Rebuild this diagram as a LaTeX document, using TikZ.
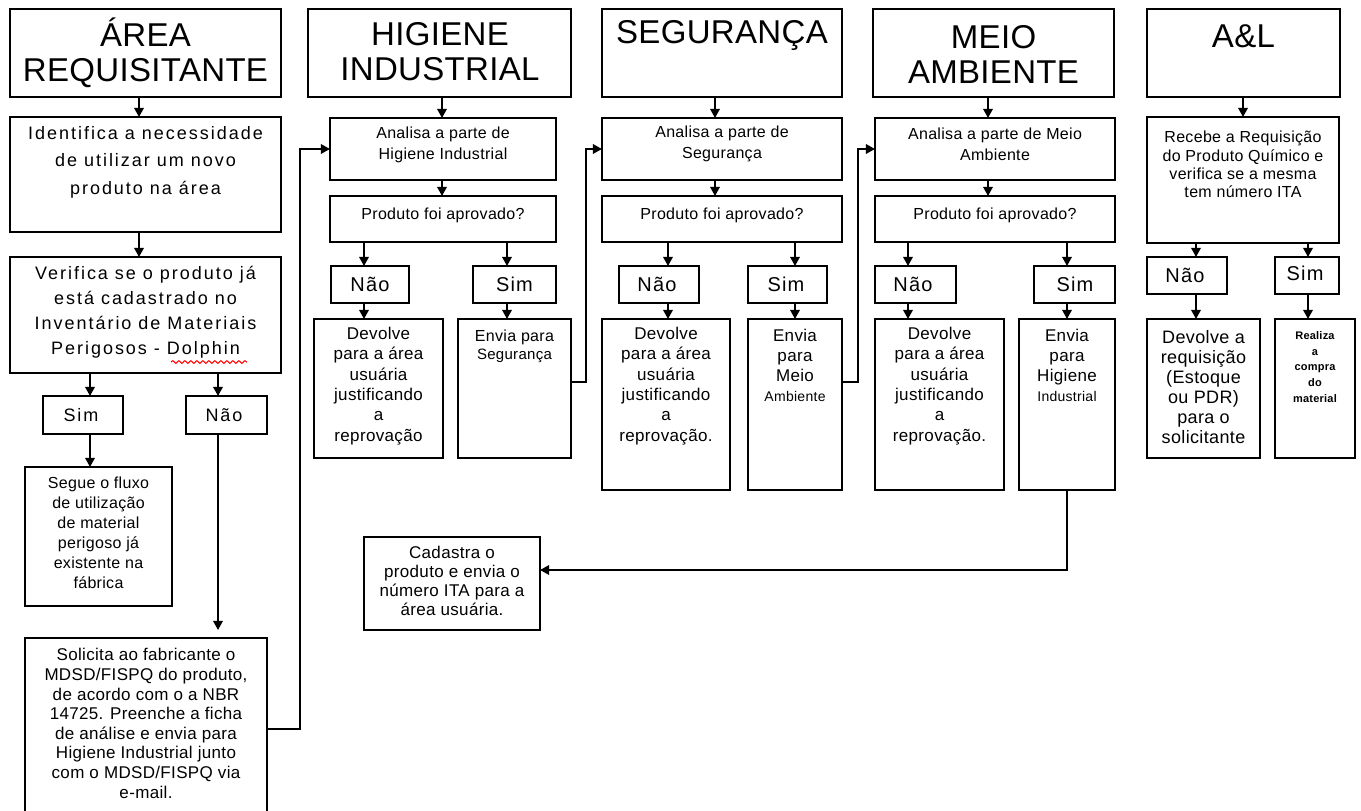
\documentclass[tikz,border=0pt]{standalone}
\usepackage{fontspec}
\setmainfont{Liberation Sans}
\newfontfamily\fA[LetterSpace=1]{Liberation Sans}
\newfontfamily\fB[LetterSpace=11]{Liberation Sans}
\newfontfamily\fC[LetterSpace=6]{Liberation Sans}
\newfontfamily\fD[LetterSpace=2]{Liberation Sans}
\usetikzlibrary{arrows.meta,decorations.pathmorphing,calc}
\newcommand\mkbox[5]{\node[box, minimum width={(#4-#2)*0.5pt}, minimum height={(#5-#3)*0.5pt}] (#1) at ({(#2+#4)/2},{(#3+#5)/2}) {};}
\begin{document}
\begin{tikzpicture}[x=0.5pt,y=-0.5pt,
  box/.style={draw, line width=1pt, inner sep=0pt, outer sep=0pt, rectangle},
  arr/.style={-{Triangle[length=4.6pt,width=4.8pt]}, line width=0.9pt},
  txt/.style={align=center, inner sep=0pt},
  hd/.style={txt, font=\fA\fontsize{16.5}{17.5}\selectfont},
  yn/.style={txt, font=\fC\fontsize{10}{12}\selectfont},
  sm/.style={txt, font=\fD\fontsize{8}{10}\selectfont}]
\useasboundingbox[fill=white] (0,0) rectangle (1361,810);

% ---------- AREA REQUISITANTE ----------
\mkbox{hAR}{10}{9}{281}{97}
\node[hd] (hAR-t) at (145.5,53) {ÁREA\\REQUISITANTE};
\mkbox{ident}{10}{117}{281}{232}
\node[txt, font=\fB\fontsize{9}{13.75}\selectfont] (ident-t) at (145.5,162) {Identifica a necessidade\\de utilizar um novo\\produto na área};
\mkbox{verif}{10}{257}{281}{373}
\node[txt, font=\fB\fontsize{9}{12.5}\selectfont] (verif-t) at (145.5,312) {Verifica se o produto já\\está cadastrado no\\Inventário de Materiais\\Perigosos - Dolphin};
\draw[red, line width=0.5pt, decorate, decoration={snake, amplitude=0.7pt, segment length=3pt}] (171,362) -- (247,362);
\mkbox{sim0}{43}{396}{123}{434}
\node[txt, font=\fB\fontsize{9}{10}\selectfont] (sim0-t) at (81,415) {Sim};
\mkbox{nao0}{186}{396}{267}{434}
\node[txt, font=\fB\fontsize{9}{10}\selectfont] (nao0-t) at (224,415) {Não};
\mkbox{segue}{25}{467}{172}{606}
\node[sm, font=\fD\fontsize{8}{10}\selectfont] (segue-t) at (98.5,533) {Segue o fluxo\\de utilização\\de material\\perigoso já\\existente na\\fábrica};
\mkbox{solic}{25}{638}{267}{830}
\node[sm, font=\fD\fontsize{8.5}{9.8}\selectfont] (solic-t) at (146,723.5) {Solicita ao fabricante o\\MDSD/FISPQ do produto,\\de acordo com o a NBR\\14725. Preenche a ficha\\de análise e envia para\\Higiene Industrial junto\\com o MDSD/FISPQ via\\e-mail.};

\coordinate (xAR) at (139,0);
\coordinate (xS0) at (90,0);
\coordinate (xN0) at (218,0);
\coordinate (xL) at (300,0);
\coordinate (yL) at (0,729);
\draw[arr] (hAR.south -| xAR) -- (ident.north -| xAR);
\draw[arr] (ident.south -| xAR) -- (verif.north -| xAR);
\draw[arr] (verif.south -| xS0) -- (sim0.north -| xS0);
\draw[arr] (sim0.south -| xS0) -- (segue.north -| xS0);
\draw[arr] (verif.south -| xN0) -- (nao0.north -| xN0);
\draw[arr, shorten >=4pt] (nao0.south -| xN0) -- (solic.north -| xN0);

% ---------- HIGIENE INDUSTRIAL ----------
\mkbox{hHI}{308}{9}{571}{97}
\node[hd] (hHI-t) at (440,52) {HIGIENE\\INDUSTRIAL};
\mkbox{aHI}{330}{118}{556}{180}
\node[sm, font=\fD\fontsize{8}{10.5}\selectfont] (aHI-t) at (443,145) {Analisa a parte de\\Higiene Industrial};
\mkbox{pHI}{330}{196}{556}{242}
\node[sm] (pHI-t) at (443,215) {Produto foi aprovado?};
\mkbox{nHI}{331}{266}{409}{303}
\node[yn] (nHI-t) at (370,284) {Não};
\mkbox{sHI}{473}{266}{556}{303}
\node[yn] (sHI-t) at (514.5,284) {Sim};
\mkbox{dHI}{314}{319}{443}{458}
\node[sm, font=\fD\fontsize{8.5}{10.2}\selectfont] (dHI-t) at (378.5,386) {Devolve\\para a área\\usuária\\justificando\\a\\reprovação};
\mkbox{eHI}{458}{319}{571}{458}
\node[sm, font=\fD\fontsize{8}{9}\selectfont] (eHI-t) at (514.5,346) {Envia para\\{\fontsize{7.5}{9}\selectfont Segurança}};

\coordinate (xHI) at (442,0);
\coordinate (xnHI) at (364,0);
\coordinate (xsHI) at (507,0);
\draw[arr] (hHI.south -| xHI) -- (aHI.north -| xHI);
\draw[arr] (aHI.south -| xHI) -- (pHI.north -| xHI);
\draw[arr] (pHI.south -| xnHI) -- (nHI.north -| xnHI);
\draw[arr] (pHI.south -| xsHI) -- (sHI.north -| xsHI);
\draw[arr] (nHI.south -| xnHI) -- (dHI.north -| xnHI);
\draw[arr] (sHI.south -| xsHI) -- (eHI.north -| xsHI);
\draw[arr] (solic.east |- yL) -- (xL |- yL) -- (xL |- aHI.west) -- (aHI.west);

% ---------- SEGURANCA ----------
\mkbox{hSEG}{602}{9}{842}{97}
\node[hd] (hSEG-t) at (722,35) {SEGURANÇA};
\mkbox{aSEG}{602}{118}{842}{180}
\node[sm, font=\fD\fontsize{8}{10.5}\selectfont] (aSEG-t) at (722,144) {Analisa a parte de\\Segurança};
\mkbox{pSEG}{602}{196}{842}{242}
\node[sm] (pSEG-t) at (722,215) {Produto foi aprovado?};
\mkbox{nSEG}{619}{266}{699}{303}
\node[yn] (nSEG-t) at (657,284) {Não};
\mkbox{sSEG}{748}{266}{827}{303}
\node[yn] (sSEG-t) at (786,284) {Sim};
\mkbox{dSEG}{602}{319}{730}{490}
\node[sm, font=\fD\fontsize{8.5}{10.2}\selectfont] (dSEG-t) at (666,386) {Devolve\\para a área\\usuária\\justificando\\a\\reprovação.};
\mkbox{eSEG}{748}{319}{842}{490}
\node[sm, font=\fD\fontsize{8.5}{10}\selectfont] (eSEG-t) at (795,365) {Envia\\para\\Meio\\{\fontsize{7}{10}\selectfont Ambiente}};

\coordinate (xSEG) at (715,0);
\coordinate (xnSEG) at (668,0);
\coordinate (xsSEG) at (795,0);
\coordinate (xC1) at (586,0);
\coordinate (yC1) at (0,382);
\draw[arr] (hSEG.south -| xSEG) -- (aSEG.north -| xSEG);
\draw[arr] (aSEG.south -| xSEG) -- (pSEG.north -| xSEG);
\draw[arr] (pSEG.south -| xnSEG) -- (nSEG.north -| xnSEG);
\draw[arr] (pSEG.south -| xsSEG) -- (sSEG.north -| xsSEG);
\draw[arr] (nSEG.south -| xnSEG) -- (dSEG.north -| xnSEG);
\draw[arr] (sSEG.south -| xsSEG) -- (eSEG.north -| xsSEG);
\draw[arr] (eHI.east |- yC1) -- (xC1 |- yC1) -- (xC1 |- aSEG.west) -- (aSEG.west);

% ---------- MEIO AMBIENTE ----------
\mkbox{hMA}{873}{9}{1114}{97}
\node[hd] (hMA-t) at (993.5,54) {MEIO\\AMBIENTE};
\mkbox{aMA}{875}{118}{1115}{180}
\node[sm, font=\fD\fontsize{8}{10.5}\selectfont] (aMA-t) at (995,144) {Analisa a parte de Meio\\Ambiente};
\mkbox{pMA}{875}{196}{1115}{242}
\node[sm] (pMA-t) at (995,215) {Produto foi aprovado?};
\mkbox{nMA}{875}{266}{956}{303}
\node[yn] (nMA-t) at (913,284) {Não};
\mkbox{sMA}{1034}{266}{1115}{303}
\node[yn] (sMA-t) at (1075,284) {Sim};
\mkbox{dMA}{875}{319}{1004}{490}
\node[sm, font=\fD\fontsize{8.5}{10.2}\selectfont] (dMA-t) at (939.5,386) {Devolve\\para a área\\usuária\\justificando\\a\\reprovação.};
\mkbox{eMA}{1019}{319}{1115}{490}
\node[sm, font=\fD\fontsize{8.5}{10}\selectfont] (eMA-t) at (1067,365) {Envia\\para\\Higiene\\{\fontsize{7}{10}\selectfont Industrial}};

\coordinate (xMA) at (988,0);
\coordinate (xnMA) at (908,0);
\coordinate (xsMA) at (1067,0);
\coordinate (xC2) at (858,0);
\draw[arr] (hMA.south -| xMA) -- (aMA.north -| xMA);
\draw[arr] (aMA.south -| xMA) -- (pMA.north -| xMA);
\draw[arr] (pMA.south -| xnMA) -- (nMA.north -| xnMA);
\draw[arr] (pMA.south -| xsMA) -- (sMA.north -| xsMA);
\draw[arr] (nMA.south -| xnMA) -- (dMA.north -| xnMA);
\draw[arr] (sMA.south -| xsMA) -- (eMA.north -| xsMA);
\draw[arr] (eSEG.east |- yC1) -- (xC2 |- yC1) -- (xC2 |- aMA.west) -- (aMA.west);

% ---------- Cadastra ----------
\mkbox{cad}{364}{537}{540}{630}
\node[sm, font=\fD\fontsize{8.5}{9.5}\selectfont] (cad-t) at (452,581) {Cadastra o\\produto e envia o\\número ITA para a\\área usuária.};
\coordinate (yC3) at (0,570);
\draw[arr] (eMA.south -| xsMA) -- (xsMA |- yC3) -- (cad.east |- yC3);

% ---------- A&L ----------
\mkbox{hAL}{1147}{9}{1340}{97}
\node[hd] (hAL-t) at (1243.5,36) {A\&L};
\mkbox{rAL}{1147}{117}{1339}{243}
\node[sm, font=\fD\fontsize{8}{9.2}\selectfont] (rAL-t) at (1243,164.5) {Recebe a Requisição\\do Produto Químico e\\verifica se a mesma\\tem número ITA};
\mkbox{nAL}{1147}{257}{1227}{294}
\node[yn] (nAL-t) at (1185,275) {Não};
\mkbox{sAL}{1275}{257}{1339}{294}
\node[yn] (sAL-t) at (1305,273) {Sim};
\mkbox{dAL}{1147}{319}{1260}{458}
\node[sm, font=\fD\fontsize{9}{10}\selectfont] (dAL-t) at (1203.5,387) {Devolve a\\requisição\\(Estoque\\ou PDR)\\para o\\solicitante};
\mkbox{zAL}{1275}{319}{1355}{458}
\node[txt, font=\fD\bfseries\fontsize{5.5}{7.8}\selectfont] (zAL-t) at (1315,367) {Realiza\\a\\compra\\do\\material};

\coordinate (xAL) at (1243,0);
\coordinate (xnAL) at (1196,0);
\coordinate (xsAL) at (1308,0);
\draw[arr] (hAL.south -| xAL) -- (rAL.north -| xAL);
\draw[arr] (rAL.south -| xnAL) -- (nAL.north -| xnAL);
\draw[arr] (rAL.south -| xsAL) -- (sAL.north -| xsAL);
\draw[arr] (nAL.south -| xnAL) -- (dAL.north -| xnAL);
\draw[arr] (sAL.south -| xsAL) -- (zAL.north -| xsAL);
\end{tikzpicture}
\end{document}
